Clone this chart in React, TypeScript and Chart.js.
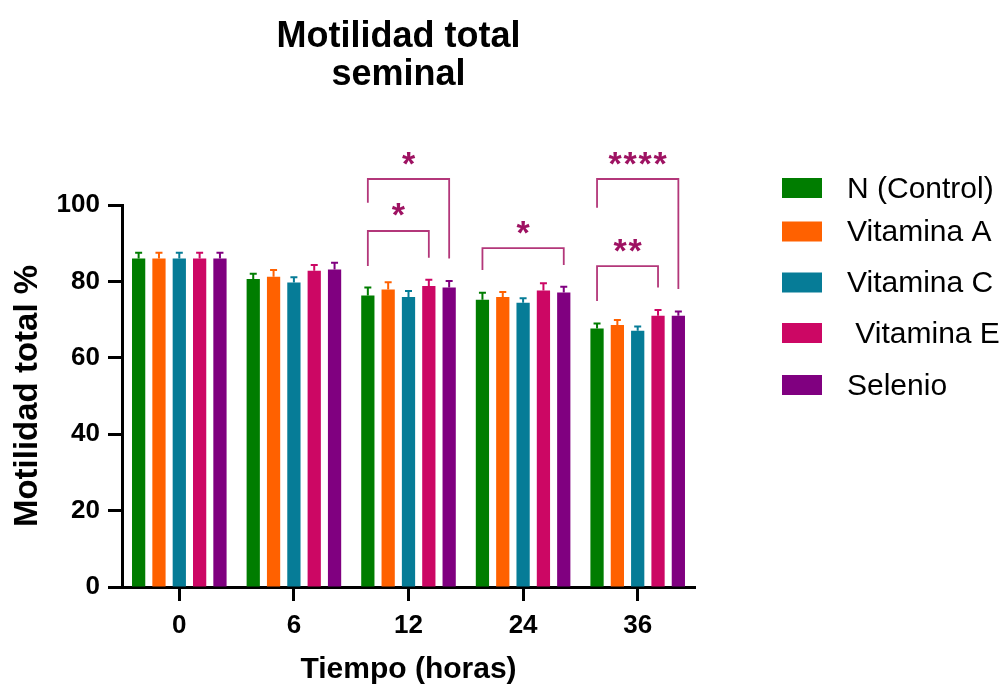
import React, { useEffect, useRef } from 'react';
import { Chart, registerables } from 'chart.js';

Chart.register(...registerables);

// ---------- data ----------
const categories = ['0', '6', '12', '24', '36'];
const seriesNames = ['N (Control)', 'Vitamina A', 'Vitamina C', ' Vitamina E', 'Selenio'];
const seriesColors = ['#007d00', '#ff6100', '#067c97', '#cc0764', '#800080'];

const controlValues = [86.0, 80.6, 76.3, 75.2, 67.7];
const vitAValues = [86.0, 81.2, 77.9, 75.9, 68.6];
const vitCValues = [86.0, 79.7, 75.9, 74.4, 67.1];
const vitEValues = [86.0, 82.8, 78.8, 77.6, 71.0];
const selenioValues = [86.0, 83.1, 78.4, 77.1, 71.0];

const controlErr = [1.5, 1.4, 2.1, 1.8, 1.3];
const vitAErr = [1.5, 1.8, 1.9, 1.3, 1.3];
const vitCErr = [1.5, 1.4, 1.6, 1.2, 1.1];
const vitEErr = [1.5, 1.5, 1.6, 1.9, 1.5];
const selenioErr = [1.5, 1.8, 1.7, 1.5, 1.1];

const yTicks = [0, 20, 40, 60, 80, 100];

// significance brackets (group index, series from/to, values in y units, label)
const bracketGroup = [2, 2, 3, 4, 4];
const bracketFrom = [0, 0, 0, 0, 0];
const bracketTo = [4, 3, 4, 4, 3];
const bracketTop = [106.8, 93.2, 88.7, 106.8, 84.0];
const bracketLeftEnd = [100.6, 84.0, 83.0, 99.3, 74.9];
const bracketRightEnd = [86.0, 86.2, 84.3, 78.0, 78.4];
const bracketLabels = ['*', '*', '*', '****', '**'];

const titleLines = ['Motilidad total', 'seminal'];
const yTitle = 'Motilidad total %';
const xTitle = 'Tiempo (horas)';

const seriesValues = [controlValues, vitAValues, vitCValues, vitEValues, selenioValues];
const seriesErrors = [controlErr, vitAErr, vitCErr, vitEErr, selenioErr];

// ---------- style / layout ----------
const FONT = '"Liberation Sans", Arial, Helvetica, sans-serif';
const BRACKET_COLOR = '#b3377a';
const STAR_COLOR = '#9e1262';
const LEGEND_X = 782;
const LEGEND_TEXT_X = 847;
const LEGEND_ROW_TOP = [178, 221.5, 272.5, 323, 375];

const errorBarPlugin = {
  id: 'errorBars',
  afterDatasetsDraw(chart: any) {
    const ctx = chart.ctx;
    const y = chart.scales.y;
    ctx.save();
    chart.data.datasets.forEach((ds: any, i: number) => {
      const meta = chart.getDatasetMeta(i);
      meta.data.forEach((el: any, j: number) => {
        const v = seriesValues[i][j];
        const e = seriesErrors[i][j];
        const top = y.getPixelForValue(v + e);
        const base = y.getPixelForValue(v);
        ctx.strokeStyle = seriesColors[i];
        ctx.lineWidth = 2;
        ctx.beginPath();
        ctx.moveTo(el.x, base);
        ctx.lineTo(el.x, top);
        ctx.moveTo(el.x - 3.5, top);
        ctx.lineTo(el.x + 3.5, top);
        ctx.stroke();
      });
    });
    ctx.restore();
  },
};

const bracketPlugin = {
  id: 'brackets',
  afterDraw(chart: any) {
    const ctx = chart.ctx;
    const y = chart.scales.y;
    ctx.save();
    for (let k = 0; k < bracketGroup.length; k++) {
      const g = bracketGroup[k];
      const x1 = chart.getDatasetMeta(bracketFrom[k]).data[g].x;
      const x2 = chart.getDatasetMeta(bracketTo[k]).data[g].x;
      const yt = y.getPixelForValue(bracketTop[k]);
      ctx.strokeStyle = BRACKET_COLOR;
      ctx.lineWidth = 1.8;
      ctx.beginPath();
      ctx.moveTo(x1, y.getPixelForValue(bracketLeftEnd[k]));
      ctx.lineTo(x1, yt);
      ctx.lineTo(x2, yt);
      ctx.lineTo(x2, y.getPixelForValue(bracketRightEnd[k]));
      ctx.stroke();

      const label = bracketLabels[k];
      ctx.fillStyle = STAR_COLOR;
      ctx.font = `bold 34px ${FONT}`;
      ctx.textAlign = 'center';
      ctx.textBaseline = 'alphabetic';
      const m = ctx.measureText('*');
      const asc = m.actualBoundingBoxAscent;
      const desc = m.actualBoundingBoxDescent;
      const cy = yt - 21;
      const baseline = cy + (asc - desc) / 2;
      const pitch = 15;
      const cx = (x1 + x2) / 2;
      const n = label.length;
      for (let c = 0; c < n; c++) {
        const sx = cx + (c - (n - 1) / 2) * pitch;
        ctx.fillText('*', sx, baseline);
      }
    }
    ctx.restore();
  },
};

const decorPlugin = {
  id: 'decor',
  afterDraw(chart: any) {
    const ctx = chart.ctx;
    ctx.save();
    // title
    ctx.fillStyle = '#000';
    ctx.textAlign = 'center';
    ctx.textBaseline = 'alphabetic';
    ctx.font = `bold 36px ${FONT}`;
    const cx = (chart.chartArea.left + chart.chartArea.right) / 2 - 10;
    ctx.fillText(titleLines[0], cx, 47);
    ctx.fillText(titleLines[1], cx, 85);
    // legend
    ctx.textAlign = 'left';
    ctx.font = `30px ${FONT}`;
    seriesNames.forEach((name, i) => {
      const top = LEGEND_ROW_TOP[i];
      ctx.fillStyle = seriesColors[i];
      ctx.fillRect(LEGEND_X, top, 40, 20);
      ctx.fillStyle = '#000';
      ctx.fillText(name, LEGEND_TEXT_X, top + 19.5);
    });
    ctx.restore();
  },
};

export default function App() {
  const ref = useRef<HTMLCanvasElement | null>(null);

  useEffect(() => {
    if (!ref.current) return;
    const chart = new Chart(ref.current, {
      type: 'bar',
      data: {
        labels: categories,
        datasets: seriesNames.map((name, i) => ({
          label: name,
          data: seriesValues[i],
          backgroundColor: seriesColors[i],
          borderWidth: 0,
          categoryPercentage: 0.887,
          barPercentage: 0.652,
        })),
      },
      options: {
        responsive: false,
        animation: false,
        events: [],
        devicePixelRatio: 1,
        layout: { padding: { left: 0, right: 310, top: 205, bottom: 0 } },
        plugins: {
          legend: { display: false },
          title: { display: false },
          tooltip: { enabled: false },
        },
        scales: {
          x: {
            type: 'category',
            offset: true,
            afterFit: (s: any) => {
              s.height = 113;
            },
            grid: {
              display: true,
              drawOnChartArea: false,
              drawTicks: true,
              tickLength: 14,
              tickWidth: 3,
              tickColor: '#000',
              offset: false,
            },
            border: { display: true, color: '#000', width: 3 },
            ticks: {
              color: '#000',
              font: { family: FONT, size: 26, weight: 'bold' },
              padding: 9,
              maxRotation: 0,
              autoSkip: false,
            },
            title: {
              display: true,
              text: xTitle,
              color: '#000',
              font: { family: FONT, size: 30, weight: 'bold' },
              padding: { top: 0, bottom: 12.5 },
            },
          },
          y: {
            min: 0,
            max: 100,
            afterFit: (s: any) => {
              s.width = 122;
            },
            afterBuildTicks: (s: any) => {
              s.ticks = yTicks.map((v) => ({ value: v }));
            },
            grid: {
              display: true,
              drawOnChartArea: false,
              drawTicks: true,
              tickLength: 14,
              tickWidth: 3,
              tickColor: '#000',
            },
            border: { display: true, color: '#000', width: 3 },
            ticks: {
              color: '#000',
              font: { family: FONT, size: 26, weight: 'bold' },
              padding: 8,
            },
            title: {
              display: true,
              text: yTitle,
              color: '#000',
              font: { family: FONT, size: 33, weight: 'bold' },
              padding: { top: 8, bottom: 0 },
            },
          },
        },
      },
      plugins: [errorBarPlugin, bracketPlugin, decorPlugin],
    } as any);
    return () => chart.destroy();
  }, []);

  return (
    <div style={{ position: 'absolute', left: 0, top: 0, width: 1005, height: 684, overflow: 'hidden', background: '#fff' }}>
      <canvas ref={ref} width={1005} height={700} style={{ width: 1005, height: 700, display: 'block' }} />
    </div>
  );
}
